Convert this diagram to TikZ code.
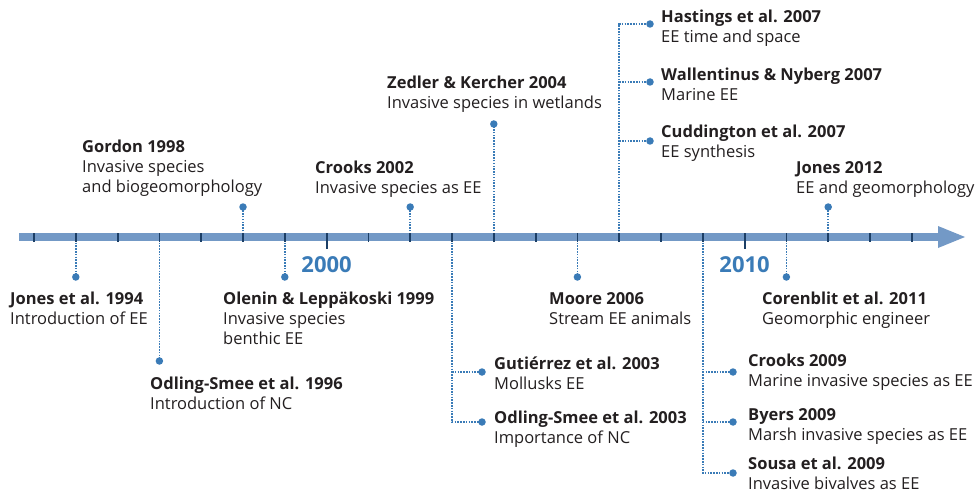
\documentclass[tikz,border=0pt]{standalone}
\usepackage{fontspec}
\setmainfont{Open Sans}
\usetikzlibrary{positioning,arrows.meta}
\definecolor{barblue}{HTML}{7399C6}
\definecolor{tickblue}{HTML}{1C3F66}
\definecolor{dotblue}{HTML}{3A7BB7}
\definecolor{textgray}{HTML}{231F20}
\newcommand{\ttl}[1]{\rule{0pt}{15pt}\textbf{#1}}

\begin{document}
\begin{tikzpicture}[%
		x=1pt,
		y=-1pt,
		entry/.style={%
			anchor=north west,
			align=left,
			inner sep=0pt,
			text=textgray,
			font=\fontsize{16.5}{20}\selectfont
		},
		dotmark/.style={%
			circle,
			fill=dotblue,
			inner sep=0pt,
			minimum size=7.5pt
		},
		leader/.style={%
			dotblue,
			line width=1.5pt,
			dash pattern=on 1.5pt off 1.3pt
		},
		yearlabel/.style={%
			anchor=base,
			text=dotblue,
			font=\bfseries\fontsize{22}{22}\selectfont
		}
		]
		\useasboundingbox (0,0) rectangle (980,492);
		
		\foreach \yr in {1993,...,2014}
		\coordinate (t\yr) at ({34+(\yr-1993)*41.8},237);
		\coordinate (start) at (19,237);
		\coordinate (tip)   at (965,237);
		
		\node[dotmark] (d1994) at (t1994 |- 0,277) {};
		\node[dotmark] (d1996) at (t1996 |- 0,361) {};
		\node[dotmark] (d1998) at (t1998 |- 0,207) {};
		\node[dotmark] (d1999) at (t1999 |- 0,277) {};
		\node[dotmark] (d2002) at (t2002 |- 0,207) {};
		\node[dotmark] (d2004) at (t2004 |- 0,124) {};
		\node[dotmark] (d2006) at (t2006 |- 0,277) {};
		\node[dotmark] (d2011) at (t2011 |- 0,277) {};
		\node[dotmark] (d2012) at (t2012 |- 0,207) {};
		\node[dotmark] (d2003a) at (482,372) {};
		\node[dotmark] (d2003b) at (482,422) {};
		\node[dotmark] (d2007a) at (650,24)  {};
		\node[dotmark] (d2007b) at (650,82)  {};
		\node[dotmark] (d2007c) at (650,141) {};
		\node[dotmark] (d2009a) at (733,372) {};
		\node[dotmark] (d2009b) at (733,422) {};
		\node[dotmark] (d2009c) at (733,473) {};
		
		\foreach \yr in {1994,1996,1998,1999,2002,2004,2006,2011,2012}
		\draw[leader] (t\yr) -- (d\yr.center);
		\draw[leader] (t2003) |- (d2003b.center);
		\draw[leader] (t2003 |- d2003a) -- (d2003a.center);
		\draw[leader] (t2007) |- (d2007a.center);
		\draw[leader] (t2007 |- d2007b) -- (d2007b.center);
		\draw[leader] (t2007 |- d2007c) -- (d2007c.center);
		\draw[leader] (t2009) |- (d2009c.center);
		\draw[leader] (t2009 |- d2009a) -- (d2009a.center);
		\draw[leader] (t2009 |- d2009b) -- (d2009b.center);
		
		\draw[barblue, line width=8pt, -{Triangle[length=27pt, width=22pt, line width=0pt]}] (start) -- (tip);
		\foreach \yr in {1993,...,2014}
		\draw[tickblue, line width=1.8pt] ([yshift=4pt]t\yr) -- ([yshift=-4.5pt]t\yr);
		\foreach \yr in {2000,2010}
		\draw[tickblue, line width=1.8pt] ([yshift=4pt]t\yr) -- ([yshift=-12pt]t\yr);
		
		\node[yearlabel] (y2000) at (t2000 |- 0,272) {2000};
		\node[yearlabel] (y2010) at (t2010 |- 0,272) {2010};
		
		\node[entry] (jones94)       at (10,289)  {\ttl{Jones et al. 1994}\\Introduction of EE};
		\node[entry] (odling96)      at (150,374) {\ttl{Odling-Smee et al. 1996}\\Introduction of NC};
		\node[entry] (gordon98)      at (82,137)  {\ttl{Gordon 1998}\\Invasive species\\and biogeomorphology};
		\node[entry] (olenin99)      at (223,289) {\ttl{Olenin \& Leppäkoski 1999}\\Invasive species\\benthic EE};
		\node[entry] (crooks02)      at (315,158) {\ttl{Crooks 2002}\\Invasive species as EE};
		\node[entry] (gutierrez03)   at (494,354) {\ttl{Gutiérrez et al. 2003}\\Mollusks EE};
		\node[entry] (odling03)      at (494,408) {\ttl{Odling-Smee et al. 2003}\\Importance of NC};
		\node[entry] (zedler04)      at (387,73)  {\ttl{Zedler \& Kercher 2004}\\Invasive species in wetlands};
		\node[entry] (moore06)       at (549,289) {\ttl{Moore 2006}\\Stream EE animals};
		\node[entry] (hastings07)    at (661,7)   {\ttl{Hastings et al. 2007}\\EE time and space};
		\node[entry] (wallentinus07) at (661,65)  {\ttl{Wallentinus \& Nyberg 2007}\\Marine EE};
		\node[entry] (cuddington07)  at (661,122) {\ttl{Cuddington et al. 2007}\\EE synthesis};
		\node[entry] (crooks09)      at (748,351) {\ttl{Crooks 2009}\\Marine invasive species as EE};
		\node[entry] (byers09)       at (748,405) {\ttl{Byers 2009}\\Marsh invasive species as EE};
		\node[entry] (sousa09)       at (748,454) {\ttl{Sousa et al. 2009}\\Invasive bivalves as EE};
		\node[entry] (corenblit11)   at (762,289) {\ttl{Corenblit et al. 2011}\\Geomorphic engineer};
		\node[entry] (jones12)       at (796,158) {\ttl{Jones 2012}\\EE and geomorphology};
		\end{tikzpicture}
\end{document}
